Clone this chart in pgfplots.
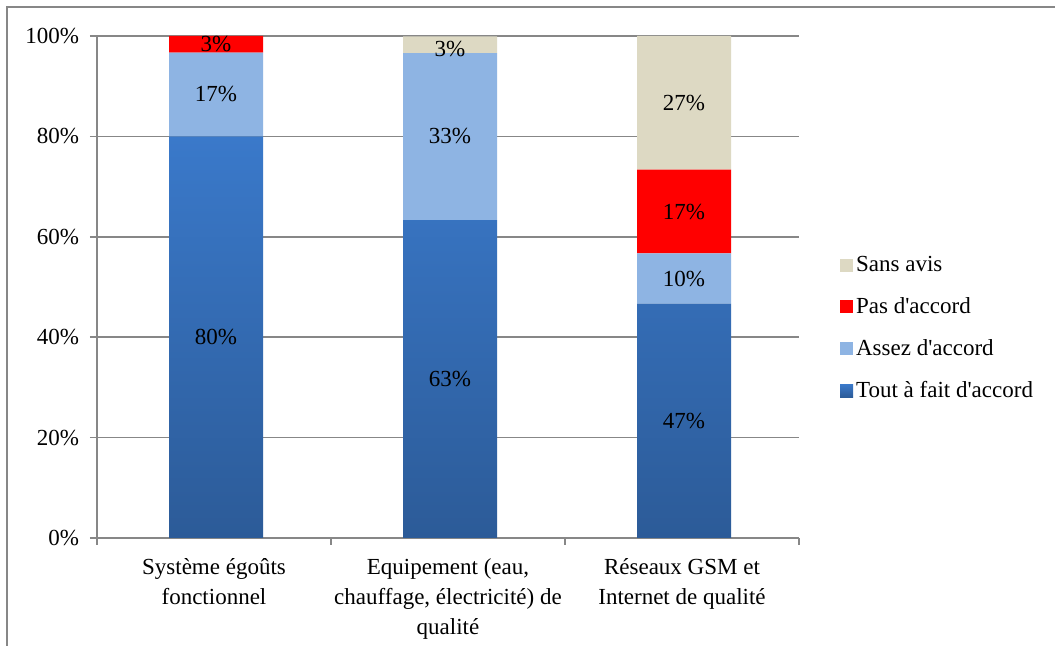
\documentclass[border=0pt]{standalone}
\usepackage{pgfplots}
\pgfplotsset{compat=1.18}
\usepackage{fontspec}
\setmainfont{Liberation Serif}
\definecolor{dblueT}{HTML}{3A79CA}
\definecolor{dblueB}{HTML}{2C5B98}
\definecolor{lblue}{HTML}{8EB4E3}
\definecolor{sred}{HTML}{FF0000}
\definecolor{beige}{HTML}{DDD9C3}
\definecolor{gridg}{HTML}{878787}
\newcommand{\ap}{\textquotesingle}
\begin{document}
\begin{tikzpicture}[font=\fontsize{11.5}{15}\selectfont]
\useasboundingbox (0,0) rectangle (527.5pt,323pt);
\fill[white] (0,0) rectangle (527.5pt,323pt);
\draw[gridg, line width=0.8pt] (3.5pt,-5pt) -- (3.5pt,319.5pt) -- (535pt,319.5pt);
\begin{axis}[
  at={(48.5pt,54pt)}, anchor=south west,
  scale only axis, width=351pt, height=251pt,
  ybar stacked, bar width=47pt, bar shift=1pt,
  xmin=-0.5, xmax=2.5, ymin=0, ymax=100,
  xtick={0,1,2},
  xticklabels={{Système égoûts\\fonctionnel},{Equipement (eau,\\chauffage, électricité) de\\qualité},{Réseaux GSM et\\Internet de qualité}},
  xticklabel style={align=center, yshift=-3pt},
  major x tick style={draw=none},
  minor xtick={-0.5,0.5,1.5,2.5},
  minor x tick style={gridg, line width=0.8pt},
  ytick={0,20,40,60,80,100},
  yticklabel={\pgfmathprintnumber{\tick}\%},
  yticklabel style={xshift=-2pt},
  /pgf/number format/assume math mode=true,
  major y tick style={gridg, line width=0.8pt},
  tick align=outside,
  major tick length=3.5pt, minor tick length=3.5pt,
  axis x line*=bottom, axis y line*=left,
  axis line style={gridg, line width=0.8pt, -},
  ymajorgrids, grid style={gridg, line width=0.8pt},
  reverse legend,
  legend cell align=left,
  legend image code/.code={\path[#1, draw=none] (0pt,-3.25pt) rectangle (6.5pt,3.25pt);},
  legend style={at={(1.058,0.418)}, anchor=west, draw=none, fill=none, row sep=8.5pt, inner sep=0pt, nodes={inner sep=1.5pt}},
]
\addplot[draw=none, top color=dblueT, bottom color=dblueB] coordinates {(0,80) (1,63.3) (2,46.7)};
\addlegendentry{Tout à fait d\ap accord}
\addplot[draw=none, fill=lblue] coordinates {(0,16.7) (1,33.3) (2,10)};
\addlegendentry{Assez d\ap accord}
\addplot[draw=none, fill=sred] coordinates {(0,3.3) (1,0) (2,16.7)};
\addlegendentry{Pas d\ap accord}
\addplot[draw=none, fill=beige] coordinates {(0,0) (1,3.3) (2,26.6)};
\addlegendentry{Sans avis}
\end{axis}
\begin{axis}[
  at={(48.5pt,54pt)}, anchor=south west,
  scale only axis, width=351pt, height=251pt,
  xmin=-0.5, xmax=2.5, ymin=0, ymax=100,
  hide axis, clip=false,
]
\addplot[only marks, mark=none, nodes near coords, point meta=explicit symbolic,
  every node near coord/.style={anchor=center, inner sep=0pt, text=black, xshift=1pt}]
  coordinates {
  (0,40)[80\%] (0,88.35)[17\%] (0,98.35)[3\%]
  (1,31.6)[63\%] (1,80)[33\%] (1,97.5)[3\%]
  (2,23.3)[47\%] (2,51.5)[10\%] (2,65)[17\%] (2,86.7)[27\%]
  };
\end{axis}
\end{tikzpicture}
\end{document}
